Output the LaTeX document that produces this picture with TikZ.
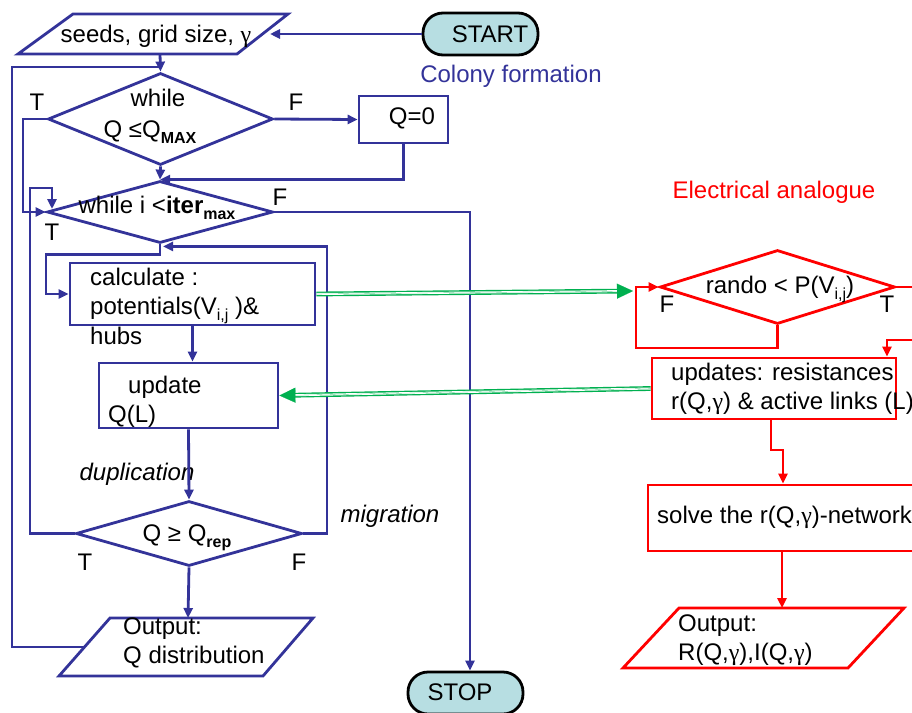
\documentclass[tikz,border=0pt]{standalone}
\usepackage{fontspec}
\setmainfont{Liberation Sans}
\newfontfamily\grk{Liberation Serif}
\usetikzlibrary{shapes.geometric,arrows.meta,calc}
\definecolor{cblue}{RGB}{51,51,153}
\definecolor{cred}{RGB}{255,0,0}
\definecolor{cgreen}{RGB}{0,176,80}
\definecolor{ccyan}{RGB}{183,222,226}
\newcommand\gam{{\grk γ}}
\newcommand\sbs[1]{\raisebox{-6pt}{\fontsize{16}{16}\selectfont #1}}
\tikzset{
  bl/.style={draw=cblue, line width=2.8pt},
  rl/.style={draw=cred, line width=2.8pt},
  blarr/.style={draw=cblue, line width=2.8pt, -{Triangle[length=10pt,width=9pt]}},
  rdarr/.style={draw=cred, line width=2.8pt, -{Triangle[length=10pt,width=9pt]}},
  bbox/.style={draw=cblue, line width=2.8pt, rectangle, inner sep=0pt},
  rbox/.style={draw=cred, line width=2.8pt, rectangle, inner sep=0pt},
  bdia/.style={draw=cblue, line width=2.8pt, diamond, inner sep=0pt},
  rdia/.style={draw=cred, line width=2.8pt, diamond, inner sep=0pt},
  term/.style={draw=black, fill=ccyan, line width=2.8pt, rectangle, rounded corners=20pt, inner sep=0pt},
  txt/.style={inner sep=0pt, font=\fontsize{24}{29.5}\selectfont},
  ltxt/.style={txt, align=left, anchor=north west},
  garr/.style={draw=cgreen, line width=1.4pt, double=white, double distance=2pt, shorten >=13pt},
  gtip/.style={draw=cgreen, line width=0.1pt, -{Triangle[length=16pt,width=15pt]}}
}
\begin{document}
\begin{tikzpicture}[x=1pt,y=-1pt]
\useasboundingbox (0,0) rectangle (912,712);

% ---------- left (blue) part ----------
\draw[bl] (73,14) -- (288,14) -- (237,54) -- (18,54) -- cycle;
\node[txt, anchor=base] (seeds) at (156,42) {seeds, grid size, \gam};
\coordinate (seedsB) at (160,54);
\coordinate (seedsR) at (270,34);

\node[term, minimum width=115pt, minimum height=42pt] (start) at (480.5,34) {};
\node[txt, anchor=base] (startt) at (490,42) {START};
\node[txt, anchor=base, text=cblue] (colony) at (511,82) {Colony formation};

\node[bdia, minimum width=225pt, minimum height=92pt] (d1) at (160.5,119) {};
\node[txt, anchor=base] (d1a) at (158,106) {while};
\node[txt, anchor=base] (d1b) at (150,137) {Q ≤Q\sbs{\textbf{MAX}}};
\node[txt, anchor=base] (d1T) at (37,110) {T};
\node[txt, anchor=base] (d1F) at (296,110) {F};

\node[bbox, minimum width=89pt, minimum height=47pt] (q0) at (403.5,119.5) {};
\node[txt, anchor=base] (q0t) at (412,124) {Q=0};

\node[bdia, minimum width=226pt, minimum height=62pt] (d2) at (160,212) {};
\node[txt, anchor=base] (d2t) at (157,213) {while i <\textbf{iter}\sbs{\textbf{max}}};
\node[txt, anchor=base] (d2F) at (280,205) {F};
\node[txt, anchor=base] (d2T) at (52,240) {T};

\node[bbox, minimum width=245pt, minimum height=62pt] (calc) at (192.5,294) {};
\node[ltxt] (calct) at (90,267.8) {calculate :\\potentials(V\sbs{i,j} )\&\\hubs};

\node[bbox, minimum width=179pt, minimum height=65pt] (upd) at (188.5,395.5) {};
\node[ltxt] (updt) at (108,375.8) {\hspace*{20pt}update\\Q(L)};

\node[txt, anchor=base, font=\fontsize{24}{29.5}\selectfont\itshape] (dup) at (137,480) {duplication};
\node[txt, anchor=base, font=\fontsize{24}{29.5}\selectfont\itshape] (mig) at (390,522) {migration};

\node[bdia, minimum width=226pt, minimum height=65pt] (d3) at (189,533.5) {};
\node[txt, anchor=base] (d3t) at (187,541) {Q ≥ Q\sbs{\textbf{rep}}};
\node[txt, anchor=base] (d3T) at (85,570) {T};
\node[txt, anchor=base] (d3F) at (299,570) {F};

\draw[bl] (110,618) -- (313,618) -- (263,676) -- (59,676) -- cycle;
\coordinate (outQT) at (188,618);
\coordinate (outQL) at (84,647);
\node[ltxt] (outQt) at (123,617.5) {Output:\\Q distribution};

\node[term, minimum width=115pt, minimum height=42pt] (stop) at (465.5,693) {};
\node[txt, anchor=base] (stopt) at (460,700) {STOP};

% ---------- right (red) part ----------
\node[txt, anchor=base, text=cred] (elec) at (774,198) {Electrical analogue};

\node[rdia, minimum width=235pt, minimum height=74pt] (rd) at (777.5,287) {};
\node[txt, anchor=base] (rdt) at (780,293) {rando < P(V\sbs{i,j})};
\node[txt, anchor=base] (rdF) at (667,312) {F};
\node[txt, anchor=base] (rdT) at (887,312) {T};

\node[rbox, minimum width=244pt, minimum height=61pt] (upd2) at (774,388.5) {};
\node[ltxt] (upd2t) at (671,362.8) {updates: resistances\\r(Q,\gam) \& active links (L)};

\node[rbox, minimum width=282pt, minimum height=66pt] (solve) at (789,518) {};
\node[txt, anchor=base west] (solvet) at (657,523) {solve the r(Q,\gam)-network};

\draw[rl] (679,608) -- (904,608) -- (848,668) -- (623,668) -- cycle;
\coordinate (outRT) at (782,608);
\node[ltxt] (outRt) at (678,614.5) {Output:\\R(Q,\gam),I(Q,\gam)};

% ---------- blue connectors ----------
\draw[blarr] (start.west) -- (seedsR);
\draw[bl] (outQL) -- (12,647) |- (160,67);
\draw[blarr] (seedsB) -- (d1.north);
\draw[blarr] (d1.east) -- (q0.west);
\draw[blarr] (q0.south) |- (d2.north);
\draw[blarr] (d1.south) -- (d2.north);
\draw[blarr] (d1.west) -- (23,119) |- (d2.west);
\draw[blarr] (d2.east) -| ([xshift=4.5pt]stop.north);
\draw[blarr] (d2.south) -- ++(0,10) -| (46,294) -- (calc.west);
\draw[blarr] (calc.south) -- (calc.south |- upd.north);
\draw[blarr] (upd.south) -- (d3.north);
\draw[blarr] (d3.south) -- (outQT);
\draw[blarr] (d3.west) -- (30,533.5) |- (52,188) -- (52,209);
\draw[blarr] (d3.east) -- (327,533.5) |- ([xshift=3pt,yshift=-2pt]d2.south);

% ---------- red connectors ----------
\draw[rdarr] (rd.south) -- (777.5,348) -| (636,287) -- (rd.west);
\draw[rdarr] (rd.east) -- (925,287) |- (887,340) -- (887,0 |- upd2.north);
\draw[rdarr] ([xshift=-3pt]upd2.south) |- (783,450) -- (783,0 |- solve.north);
\draw[rdarr] (782,0 |- solve.south) -- (outRT);

% ---------- green connectors ----------
\coordinate (gend) at (633,291);
\draw[garr] (calc.east) -- (gend);
\draw[gtip] (calc.east) -- (gend);
\draw[garr] (upd2.west) -- (upd.east);
\draw[gtip] (upd2.west) -- (upd.east);
\end{tikzpicture}
\end{document}
